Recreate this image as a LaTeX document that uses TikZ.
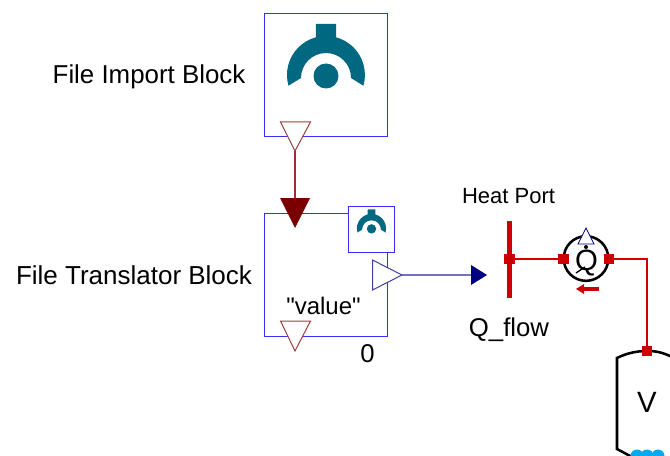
\documentclass[tikz,border=0pt]{standalone}
\usepackage{fontspec}
\setmainfont{Liberation Sans}
\newfontfamily\plainsans{Liberation Sans}
\definecolor{blockblue}{RGB}{50,50,245}
\definecolor{portred}{RGB}{122,0,0}
\definecolor{icon}{RGB}{0,104,128}
\definecolor{heat}{RGB}{204,0,0}
\definecolor{navyout}{RGB}{0,0,128}
\definecolor{water}{RGB}{0,170,240}
\newcommand{\lbl}[1]{\fontsize{#1}{#1}\selectfont}
\newcommand{\dymicon}[3]{%
 \begin{scope}[shift={(#1,#2)},scale=#3]
  \fill[icon] (-10,-51) -- (10,-51) -- (10,-37.7) arc[start angle=-75,end angle=16,radius=39] -- (25,3) arc[start angle=0,end angle=-180,radius=25] -- (-37.5,10.7) arc[start angle=164,end angle=255,radius=39] -- cycle;
  \fill[icon] (0,1) circle[radius=12.5];
 \end{scope}}
\tikzset{
  x=0.75pt,y=-0.75pt,
  blockbox/.style={draw=blockblue,line width=0.75pt,fill=white,inner sep=0pt,outer sep=0pt},
  inport/.style={draw=portred!75!white,line width=0.75pt,fill=white},
  bigport/.style={fill=portred},
  outport/.style={draw=navyout!75!white,line width=0.75pt,fill=white},
  sq/.style={fill=heat,inner sep=0pt,minimum size=8.2pt,outer sep=0pt},
  lab/.style={inner sep=0pt,text=black},
  heatline/.style={draw=heat,line width=1.3pt},
}
\begin{document}
\begin{tikzpicture}
\useasboundingbox (0,0) rectangle (670,456);
\clip (0,0) rectangle (670,456);
% blocks
\node[blockbox,minimum width=92.25pt,minimum height=92pt] (imp) at (326,75.2) {};
\node[blockbox,minimum width=92.25pt,minimum height=92pt] (tr) at (326,274.8) {};
\node[blockbox,minimum width=34.5pt,minimum height=34.2pt] (mini) at (371.5,229.2) {};
\dymicon{326}{75}{1}
\dymicon{371.5}{228.5}{0.375}
% ports
\coordinate (a1) at (295,151);
\coordinate (a2) at (295,198);
\coordinate (o1) at (402,275);
\coordinate (o2) at (471,275);
\draw[inport] (280.5,122) -- (310.5,122) -- (a1) -- cycle;
\draw[portred!80!white,line width=0.9pt] (a1) -- (a2);
\fill[bigport] (280,198) -- (310,198) -- (295,228) -- cycle;
\draw[inport] (280.5,321) -- (310.5,321) -- (295,351) -- cycle;
\draw[outport] (372.5,260) -- (o1) -- (372.5,290) -- cycle;
\draw[navyout!55!white,line width=1.1pt] (o1) -- (o2);
\fill[navyout] (471,265) -- (487,275) -- (471,285) -- cycle;
% heat port
\fill[heat] (507.2,221) rectangle (511.8,298);
\node[sq] (hp) at (509.5,259) {};
% sensor
\node[circle,draw=black,line width=1.9pt,minimum size=33.5pt,inner sep=0pt,outer sep=0pt] (cir) at (586,258.5) {};
\node[lab] (qq) at (586.5,263) {\lbl{22}Q};
\draw[black,line width=1pt] (576,273) -- (585,267);
\fill[black] (586,247) circle[radius=2];
\draw[draw=navyout,line width=0.6pt,fill=white] (578,244) -- (594,244) -- (586,228) -- cycle;
\node[sq] (sl) at (563.5,259) {};
\node[sq] (sr) at (609,259) {};
\fill[heat] (599,287.2) rectangle (583,290.8);
\fill[heat] (584,284) -- (576,289) -- (584,294) -- cycle;
\node[sq] (vp) at (647,351) {};
\coordinate (bend) at (647,259);
\draw[heatline] (hp) -- (sl);
\draw[heatline] (sr) -- (bend) -- (vp);
% vessel
\draw[black,line width=1.9pt] (672,357) .. controls (662,352) and (655,351) .. (647,351) .. controls (637,351) and (627,353) .. (617,358) -- (617,449) -- (632,457);
\fill[water] (637,456) circle[radius=6.5];
\fill[water] (647,456) circle[radius=6.5];
\fill[water] (658,456) circle[radius=6.5];
\node[sq] at (647,351) {};
% labels
\node[lab] (l1) at (149,76.5) {\lbl{19.4}File Import Block};
\node[lab] (l2) at (134,275) {\lbl{19.5}File Translator Block};
\node[lab] (l3) at (508.5,196) {\lbl{16.5}Heat Port};
\node[lab,anchor=base] (l4) at (509,336) {\lbl{19.3}Q\_flow};
\node[lab,anchor=base] (l5) at (323.5,314) {\lbl{18}\plainsans "value"};
\node[lab,anchor=base] (l6) at (367.5,362) {\lbl{19.3}0};
\node[lab] (l7) at (647,402) {\lbl{22}V};
\end{tikzpicture}
\end{document}
